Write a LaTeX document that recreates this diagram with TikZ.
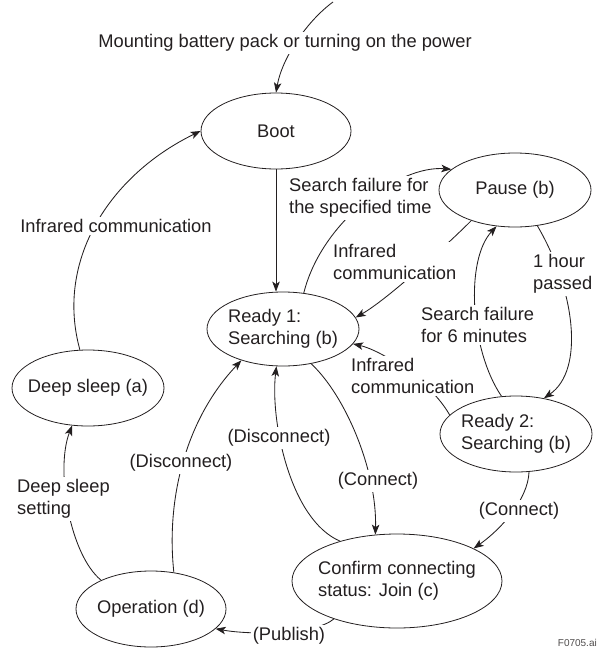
\documentclass[tikz,border=0pt]{standalone}
\usepackage{fontspec}
\setmainfont{Liberation Sans}
\usetikzlibrary{shapes.geometric,arrows.meta}
\definecolor{ink}{RGB}{35,31,32}
\begin{document}
\begin{tikzpicture}[x=1pt,y=-1pt,
  font=\fontsize{18.3}{22}\selectfont,
  st/.style={ellipse, draw=ink, line width=0.8pt, inner sep=-20pt, align=left, text=ink},
  lbl/.style={fill=white, inner sep=2pt, align=left, text=ink},
  arr/.style={draw=ink, line width=0.85pt, -{Stealth[length=10pt,width=7.5pt,inset=2.5pt]}}]
\useasboundingbox (0,0) rectangle (598,648);
% states
\node[st, minimum width=150pt, minimum height=76pt] (boot) at (276,131) {Boot};
\node[st, minimum width=152pt, minimum height=74pt] (pause) at (515,190) {Pause (b)};
\node[st, minimum width=152pt, minimum height=74pt] (ready1) at (283,329) {Ready 1:\\Searching (b)};
\node[st, minimum width=152pt, minimum height=76pt] (deep) at (88,388) {Deep sleep (a)};
\node[st, minimum width=152pt, minimum height=76pt] (ready2) at (516,434) {Ready 2:\\Searching (b)};
\node[st, minimum width=210pt, minimum height=94pt] (confirm) at (397,581) {Confirm connecting\\status: Join (c)};
\node[st, minimum width=150pt, minimum height=76pt] (oper) at (151,609) {Operation (d)};
% connectors
\coordinate (src) at (333,2);
\draw[arr] (src) .. controls (307,21) and (282,58) .. (boot.north);
\draw[arr] (boot.south) -- (boot.south |- ready1.north);
\draw[arr] (ready1.60) .. controls (322,220) and (400,165) .. (pause.162);
\draw[arr] (pause.215) .. controls (449,243) and (388,299) .. (ready1.9);
\draw[arr] (pause.302) .. controls (575,290) and (585,370) .. (ready2.52);
\draw[arr] (ready2.111) .. controls (470,350) and (465,260) .. (pause.243);
\draw[arr] (ready2.164) .. controls (430,380) and (380,350) .. (ready1.348);
\draw[arr] (ready1.309) .. controls (345,395) and (377,470) .. (confirm.115);
\draw[arr] (confirm.145) .. controls (290,520) and (270,420) .. (ready1.260);
\draw[arr] (oper.58) .. controls (166,500) and (185,420) .. (ready1.217);
\draw[arr] (oper.150) .. controls (70,555) and (55,470) .. (deep.247);
\draw[arr] (deep.102) .. controls (55,260) and (110,175) .. (boot.west);
\draw[arr] (confirm.211) .. controls (315,635) and (250,635) .. (oper.343);
\draw[arr] (ready2.289) .. controls (528,500) and (500,530) .. (confirm.23);
% labels
\node[lbl] (l0) at (285,43) {Mounting battery pack or turning on the power};
\node[lbl, anchor=west] (l2) at (287,198) {Search failure for\\the specified time};
\node[lbl, anchor=west] (l3) at (331,262) {Infrared\\communication};
\node[lbl, anchor=west] (l4) at (531,274) {1 hour\\passed};
\node[lbl, anchor=west] (l5) at (419,325) {Search failure\\for 6 minutes};
\node[lbl, anchor=west] (l6) at (349,376) {Infrared\\communication};
\node[lbl] (l7) at (378,481) {(Connect)};
\node[lbl] (l8) at (279,438) {(Disconnect)};
\node[lbl] (l9) at (181,463) {(Disconnect)};
\node[lbl, anchor=west] (l10) at (15,499) {Deep sleep\\setting};
\node[lbl] (l11) at (116,226) {Infrared communication};
\node[lbl] (l12) at (289,636) {(Publish)};
\node[lbl] (l13) at (519,511) {(Connect)};
\node[anchor=south east, font=\fontsize{10}{12}\selectfont, text=ink!80, inner sep=1pt] (fig) at (598,648) {F0705.ai};
\end{tikzpicture}
\end{document}
